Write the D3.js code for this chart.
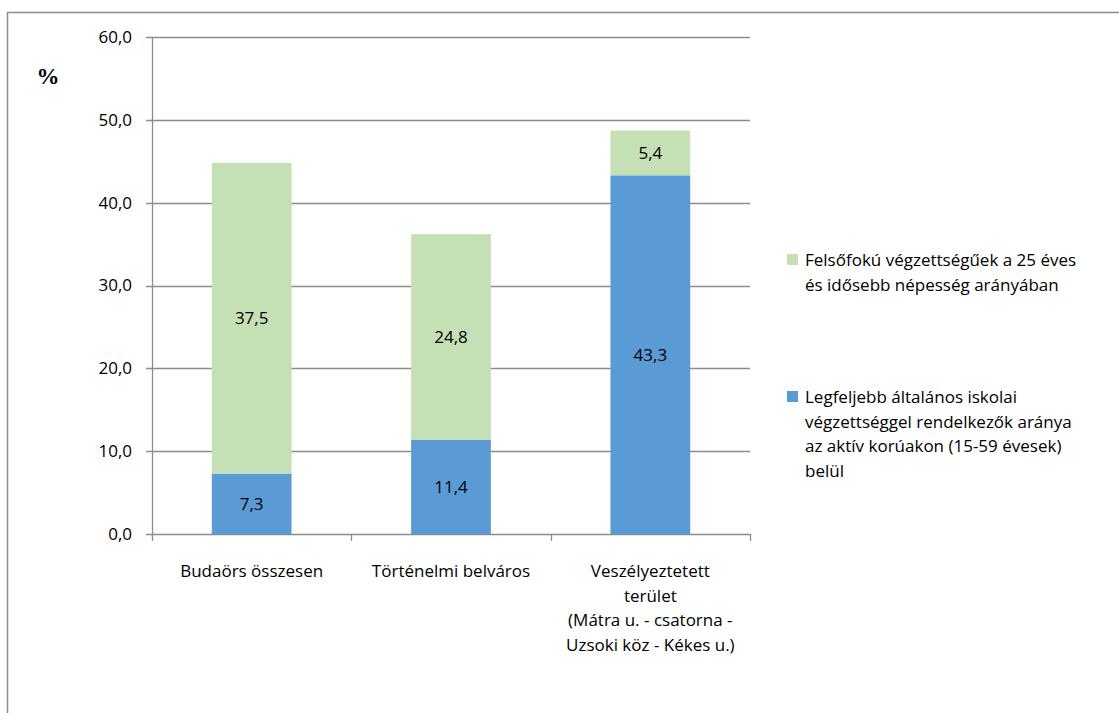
<!DOCTYPE html>
<html>
<head>
<meta charset="utf-8">
<script src="https://cdn.jsdelivr.net/npm/d3@7"></script>
<style>
  body { margin: 0; background: #fff; }
  svg text { font-family: "Open Sans", sans-serif; fill: #000; }
</style>
</head>
<body>
<svg id="chart" width="1119" height="713"></svg>
<script>
// data
var categories = ["Budaörs összesen", "Történelmi belváros", "Veszélyeztetett terület (Mátra u. - csatorna - Uzsoki köz - Kékes u.)"];
var categoryLines = [
  ["Budaörs összesen"],
  ["Történelmi belváros"],
  ["Veszélyeztetett", "terület", "(Mátra u. - csatorna -", "Uzsoki köz - Kékes u.)"]
];
var lowEdu = [7.3, 11.4, 43.3];
var highEdu = [37.5, 24.8, 5.4];
var yTicks = [0, 10, 20, 30, 40, 50, 60];
var legendLow = ["Legfeljebb általános iskolai", "végzettséggel rendelkezők aránya", "az aktív korúakon (15-59 évesek)", "belül"];
var legendHigh = ["Felsőfokú végzettségűek a 25 éves", "és idősebb népesség arányában"];

var blue = "#5b9bd5", green = "#c5e0b4", gridCol = "#8c8c8c";
var fs = "17px";

var svg = d3.select("#chart");

// outer frame
svg.append("rect").attr("x", 7.5).attr("y", 12.5).attr("width", 1130).attr("height", 720)
  .attr("fill", "none").attr("stroke", "#8c8c8c").attr("stroke-width", 1.5);

var plotL = 152, plotR = 750, plotT = 37, plotB = 534;

var x = d3.scaleBand().domain(categories).range([plotL, plotR]);
var y = d3.scaleLinear().domain([0, 60]).range([plotB, plotT]);
var barW = x.bandwidth() * 0.4;

// gridlines
svg.append("g").selectAll("line").data(yTicks).enter().append("line")
  .attr("x1", plotL - 6).attr("x2", plotR)
  .attr("y1", function(d){ return Math.round(y(d)) + 0.5; })
  .attr("y2", function(d){ return Math.round(y(d)) + 0.5; })
  .attr("stroke", gridCol).attr("stroke-width", 1.3);

// y axis line
svg.append("line").attr("x1", plotL + 0.5).attr("x2", plotL + 0.5)
  .attr("y1", plotT).attr("y2", plotB + 7)
  .attr("stroke", gridCol).attr("stroke-width", 1.3);

// category ticks
var tickXs = categories.map(function(c){ return x(c); }).concat([plotR]);
svg.append("g").selectAll("line").data(tickXs.slice(1)).enter().append("line")
  .attr("x1", function(d){ return Math.round(d) + 0.5; })
  .attr("x2", function(d){ return Math.round(d) + 0.5; })
  .attr("y1", plotB).attr("y2", plotB + 7)
  .attr("stroke", gridCol).attr("stroke-width", 1.3);

// y tick labels
svg.append("g").selectAll("text").data(yTicks).enter().append("text")
  .attr("x", 132).attr("y", function(d){ return y(d); })
  .attr("dy", "0.35em").attr("text-anchor", "end")
  .style("font-size", fs)
  .text(function(d){ return d3.format(".1f")(d).replace(".", ","); });

svg.append("text").attr("x", 48).attr("y", 84).attr("text-anchor", "middle")
  .style("font-family", "'Liberation Serif', 'DejaVu Serif', serif").style("font-weight", "bold").style("font-size", "23px")
  .text("%");

// bars
var bars = svg.append("g");
categories.forEach(function(c, i) {
  var bx = x(c) + (x.bandwidth() - barW) / 2;
  var cx = x(c) + x.bandwidth() / 2;
  bars.append("rect").attr("x", bx).attr("width", barW)
    .attr("y", y(lowEdu[i])).attr("height", y(0) - y(lowEdu[i])).attr("fill", blue);
  bars.append("rect").attr("x", bx).attr("width", barW)
    .attr("y", y(lowEdu[i] + highEdu[i])).attr("height", y(lowEdu[i]) - y(lowEdu[i] + highEdu[i])).attr("fill", green);
  bars.append("text").attr("x", cx).attr("y", y(lowEdu[i] / 2)).attr("dy", "0.35em")
    .attr("text-anchor", "middle").style("font-size", fs)
    .text(String(lowEdu[i]).replace(".", ","));
  bars.append("text").attr("x", cx).attr("y", y(lowEdu[i] + highEdu[i] / 2)).attr("dy", "0.35em")
    .attr("text-anchor", "middle").style("font-size", fs)
    .text(String(highEdu[i]).replace(".", ","));

  // category label
  var t = svg.append("text").attr("text-anchor", "middle").style("font-size", fs);
  categoryLines[i].forEach(function(line, k) {
    t.append("tspan").attr("x", cx).attr("y", 577 + k * 24.5).text(line);
  });
});

// legend
function legendItem(lines, color, y0) {
  svg.append("rect").attr("x", 787).attr("y", y0 - 12).attr("width", 11).attr("height", 11).attr("fill", color);
  var t = svg.append("text").style("font-size", fs);
  lines.forEach(function(line, k) {
    t.append("tspan").attr("x", 805).attr("y", y0 + k * 24.5).text(line);
  });
}
legendItem(legendHigh, green, 266);
legendItem(legendLow, blue, 403);
</script>
</body>
</html>
